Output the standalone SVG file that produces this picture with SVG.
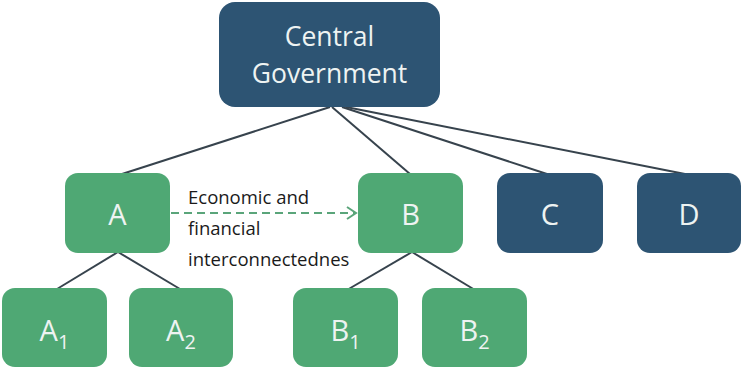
<svg xmlns="http://www.w3.org/2000/svg" width="742" height="371" viewBox="0 0 742 371">
<style>
.blue{fill:#2d5473}
.green{fill:#4fa874}
.lbl{font-family:"Open Sans","Liberation Sans",sans-serif;fill:#eef3f2;text-anchor:middle}
.big{font-size:29px}
.sub{font-size:20px}
.ln{stroke:#37434d;stroke-width:2;fill:none}
.note{font-family:"Open Sans","Liberation Sans",sans-serif;font-size:18.5px;fill:#1a1a1a}
</style>
<defs>
<marker id="chev" markerWidth="14" markerHeight="14" refX="11" refY="7" orient="auto" markerUnits="userSpaceOnUse">
<path d="M2,1 L11,7 L2,13" fill="none" stroke="#5aa57a" stroke-width="2"/>
</marker>
</defs>
<rect width="742" height="371" fill="#ffffff"/>
<g id="connectors">
<line class="ln" x1="330" y1="107" x2="122" y2="174"/>
<line class="ln" x1="332" y1="107" x2="410" y2="174"/>
<line class="ln" x1="342" y1="107" x2="547" y2="174"/>
<line class="ln" x1="346" y1="107" x2="685" y2="174"/>
<line class="ln" x1="118" y1="252" x2="57" y2="289"/>
<line class="ln" x1="118" y1="252" x2="180" y2="289"/>
<line class="ln" x1="412" y1="252" x2="347" y2="290"/>
<line class="ln" x1="412" y1="252" x2="475" y2="290"/>
<line x1="171" y1="213" x2="356" y2="213" stroke="#5aa57a" stroke-width="2" stroke-dasharray="8,5" marker-end="url(#chev)"/>
</g>
<g id="central">
<rect class="blue" x="219" y="2" width="221" height="105" rx="16"/>
<text class="lbl" x="329.5" y="46" font-size="26.5">Central</text>
<text class="lbl" x="329.5" y="83" font-size="26.5">Government</text>
</g>
<g id="A">
<rect class="green" x="65" y="173" width="105" height="80" rx="13"/>
<text class="lbl big" x="117.5" y="225">A</text>
</g>
<g id="B">
<rect class="green" x="358" y="173" width="105" height="80" rx="13"/>
<text class="lbl big" x="410.5" y="225">B</text>
</g>
<g id="C">
<rect class="blue" x="497" y="173" width="106" height="80" rx="13"/>
<text class="lbl big" x="550" y="225">C</text>
</g>
<g id="D">
<rect class="blue" x="637" y="173" width="104" height="80" rx="13"/>
<text class="lbl big" x="689" y="225">D</text>
</g>
<g id="A1">
<rect class="green" x="2" y="288" width="105" height="79" rx="13"/>
<text class="lbl big" x="54.5" y="341">A<tspan class="sub" dy="8">1</tspan></text>
</g>
<g id="A2">
<rect class="green" x="129" y="288" width="104" height="79" rx="13"/>
<text class="lbl big" x="181" y="341">A<tspan class="sub" dy="8">2</tspan></text>
</g>
<g id="B1">
<rect class="green" x="293" y="288" width="105" height="79" rx="13"/>
<text class="lbl big" x="345.5" y="341">B<tspan class="sub" dy="8">1</tspan></text>
</g>
<g id="B2">
<rect class="green" x="422" y="288" width="105" height="79" rx="13"/>
<text class="lbl big" x="474.5" y="341">B<tspan class="sub" dy="8">2</tspan></text>
</g>
<g id="edge-label">
<text class="note" x="188" y="204">Economic and</text>
<text class="note" x="188" y="235">financial</text>
<text class="note" x="188" y="266">interconnectednes</text>
</g>
</svg>
